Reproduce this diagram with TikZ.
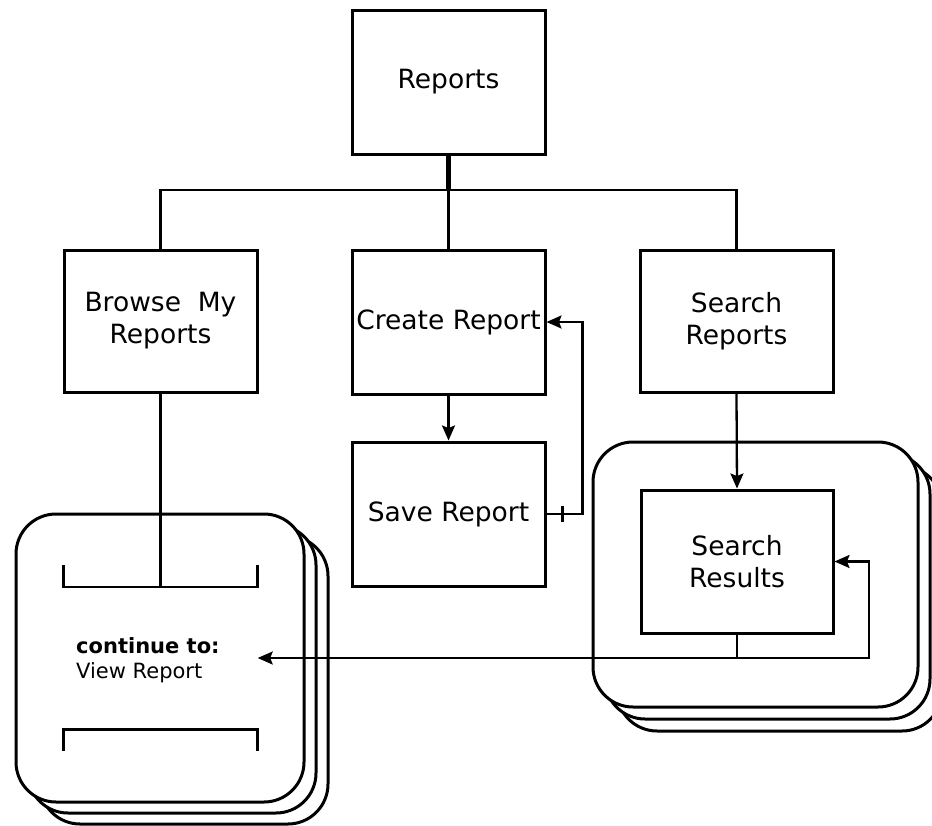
\documentclass[tikz,border=0pt]{standalone}
\usepackage{fontspec}
\setmainfont{DejaVu Sans}
\usetikzlibrary{arrows.meta}
\begin{document}
\begin{tikzpicture}[x=1pt,y=-1pt,
  box/.style={draw=black,line width=3pt,fill=white,inner sep=0pt,align=center,
    font=\fontsize{26.5}{32}\selectfont},
  stackbox/.style={draw=black,line width=3pt,fill=white,rounded corners=40pt,inner sep=0pt},
  conn/.style={line width=2.3pt},
  arr/.style={line width=2.3pt,-{Stealth[length=15pt,width=13pt,inset=2.5pt]}}]
\useasboundingbox (0,0) rectangle (932,825);
% stacks (back to front)
\node[stackbox,minimum width=325pt,minimum height=265pt] (rs3) at (779.5,598.5) {};
\node[stackbox,minimum width=325pt,minimum height=265pt] (rs2) at (767.5,586.5) {};
\node[stackbox,minimum width=325pt,minimum height=265pt] (rs1) at (755.5,574.5) {};
\node[stackbox,minimum width=288pt,minimum height=288pt] (ls3) at (184,680) {};
\node[stackbox,minimum width=288pt,minimum height=288pt] (ls2) at (172,669) {};
\node[stackbox,minimum width=288pt,minimum height=288pt] (ls1) at (160,658) {};
% boxes
\node[box,minimum width=193pt,minimum height=144pt] (rep) at (448.5,82) {Reports};
\node[box,minimum width=193pt,minimum height=142pt] (browse) at (160.5,321) {Browse\ \ My\\Reports};
\node[box,minimum width=193pt,minimum height=144pt] (create) at (448.5,322) {Create Report};
\node[box,minimum width=193pt,minimum height=142pt] (search) at (736.5,321) {Search\\Reports};
\node[box,minimum width=193pt,minimum height=144pt] (save) at (448.5,514) {Save Report};
\node[box,minimum width=192pt,minimum height=143pt] (sres) at (737,561.5) {Search\\Results};
% view report bracket
\node[minimum width=194pt,minimum height=142pt,inner sep=0pt] (vr) at (160.5,658) {};
\draw[line width=2.6pt] ([yshift=22pt]vr.north west) -- (vr.north west) -- (vr.north east) -- ([yshift=22pt]vr.north east);
\draw[line width=2.6pt] ([yshift=-22pt]vr.south west) -- (vr.south west) -- (vr.south east) -- ([yshift=-22pt]vr.south east);
\node[anchor=west,align=left,inner sep=0pt,font=\fontsize{21}{25}\selectfont] (cont) at (76,660)
  {\textbf{continue to:}\\View Report};
% tree connectors
\coordinate (bus) at (448.5,190);
\draw[line width=4.5pt] (rep.south) -- (bus);
\draw[conn] (browse.north) |- (bus) -| (search.north);
\draw[conn] (create.north) -- (bus);
\draw[conn] (browse.south) -- (vr.north);
\draw[arr] (create.south) -- (save.north);
\draw[arr] (save.east) -- ++(36,0) |- (create.east);
\draw[conn] ([xshift=16pt,yshift=-8pt]save.east) -- ([xshift=16pt,yshift=8pt]save.east);
\draw[arr] (search.south) -- (sres.north);
\coordinate (j) at (sres.south |- vr.east);
\draw[conn] (sres.south) -- (j);
\draw[arr] (j) -- (vr.east);
\draw[arr] (j) -- (869,658) |- (sres.east);
\end{tikzpicture}
\end{document}
